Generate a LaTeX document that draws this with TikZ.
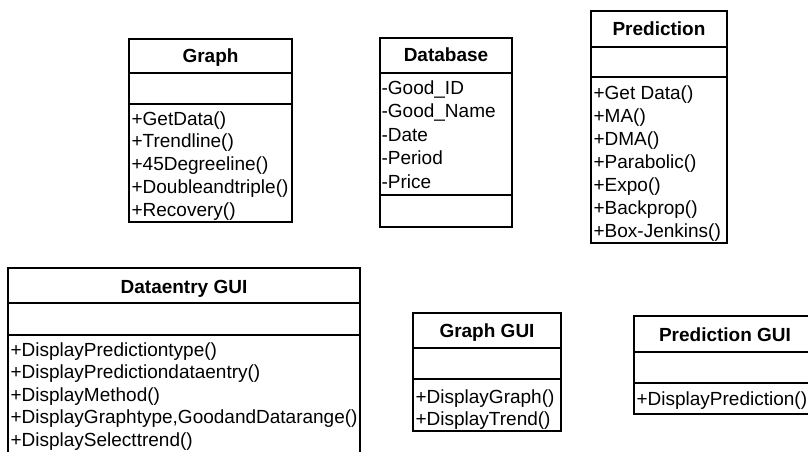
\documentclass[tikz,border=0pt]{standalone}
\usepackage{fontspec}
\setmainfont{Liberation Sans}
\usepackage{tikz}

\begin{document}
\begin{tikzpicture}[x=1pt,y=-1pt,line width=1.2pt,
    op/.style={anchor=west,inner sep=0pt,text height=14pt,text depth=0pt,font=\fontsize{19}{23}\selectfont},
    title/.style={inner sep=0pt,text height=14pt,text depth=0pt,font=\fontsize{19}{23}\selectfont\bfseries}]
    \useasboundingbox (0,0) rectangle (808,452);
    \clip (0,0) rectangle (808,452);

    % Graph
    \coordinate (G1) at (129,39);
    \coordinate (G2) at (292,222);
    \draw (G1) rectangle (G2);
    \draw (129,73) -- (292,73); % name
    \draw (129,104) -- (292,104); % attributes
    \node[title] (graph) at (210.5,56) {Graph};
    \foreach \txt [count=\i] in {+GetData(),+Trendline(),+45Degreeline(),+Doubleandtriple(),+Recovery()}
        \node[op] (graphop\i) at (131,{118+22.8*(\i-1)}) {\txt};

    % Database
    \coordinate (D1) at (380,38);
    \coordinate (D2) at (512,227);
    \draw (D1) rectangle (D2);
    \draw (380,73) -- (512,73); % name
    \draw (380,195) -- (512,195); % attributes
    \node[title] (database) at (446,55) {Database};
    \foreach \txt [count=\i] in {-Good\_ID,-Good\_Name,-Date,-Period,-Price}
        \node[op] (dbattr\i) at (381,{87+23.5*(\i-1)}) {\txt};

    % Prediction
    \coordinate (P1) at (591,11);
    \coordinate (P2) at (727,243);
    \draw (P1) rectangle (P2);
    \draw (591,47) -- (727,47); % name
    \draw (591,77) -- (727,77); % attributes
    \node[title] (prediction) at (659,29) {Prediction};
    \foreach \txt [count=\i] in {+Get Data(),+MA(),+DMA(),+Parabolic(),+Expo(),+Backprop(),+Box-Jenkins()}
        \node[op] (predop\i) at (593,{92+23*(\i-1)}) {\txt};

    % Dataentry GUI
    \coordinate (E1) at (8,268);
    \coordinate (E2) at (360,470);
    \draw (E1) rectangle (E2);
    \draw (8,303) -- (360,303); % name
    \draw (8,335) -- (360,335); % attributes
    \node[title] (dataentry) at (184,286) {Dataentry GUI};
    \foreach \txt [count=\i] in {+DisplayPredictiontype(),+DisplayPredictiondataentry(),+DisplayMethod(),{+DisplayGraphtype,GoodandDatarange()},+DisplaySelecttrend()}
        \node[op] (entryop\i) at (10,{349+22.5*(\i-1)}) {\txt};

    % Graph GUI
    \coordinate (GG1) at (413,313);
    \coordinate (GG2) at (561,431);
    \draw (GG1) rectangle (GG2);
    \draw (413,348) -- (561,348); % name
    \draw (413,379) -- (561,379); % attributes
    \node[title] (graphgui) at (487,330) {Graph GUI};
    \foreach \txt [count=\i] in {+DisplayGraph(),+DisplayTrend()}
        \node[op] (graphguiop\i) at (415,{396+22.5*(\i-1)}) {\txt};

    % Prediction GUI
    \coordinate (PG1) at (634,316);
    \coordinate (PG2) at (816,414);
    \draw (PG1) rectangle (PG2);
    \draw (634,352) -- (816,352); % name
    \draw (634,383) -- (816,383); % attributes
    \node[title] (predgui) at (725,334) {Prediction GUI};
    \node[op] (predguiop1) at (636,398) {+DisplayPrediction()};

\end{tikzpicture}
\end{document}
